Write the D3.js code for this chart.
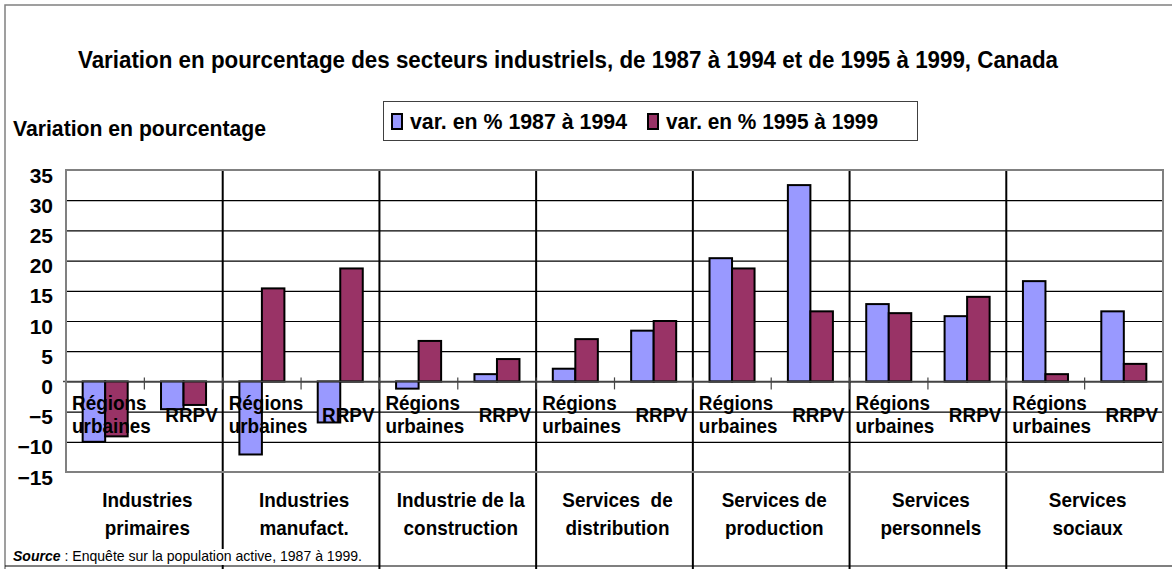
<!DOCTYPE html>
<html>
<head>
<meta charset="utf-8">
<script src="https://cdn.jsdelivr.net/npm/d3@7"></script>
<style>
  body { margin: 0; background: #fff; }
  svg { display: block; font-family: Arial, "Liberation Sans", sans-serif; }
</style>
</head>
<body>
<svg width="1172" height="569"></svg>
<script>
// données
const categories = ['Industries primaires', 'Industries manufact.', 'Industrie de la construction',
  'Services de distribution', 'Services de production', 'Services personnels', 'Services sociaux'];
const categoryLines = [
  ['Industries', 'primaires'],
  ['Industries', 'manufact.'],
  ['Industrie de la', 'construction'],
  ['Services  de', 'distribution'],
  ['Services de', 'production'],
  ['Services', 'personnels'],
  ['Services', 'sociaux']
];
const regions = ['Régions urbaines', 'RRPV'];
const seriesNames = ['var. en % 1987 à 1994', 'var. en % 1995 à 1999'];
// une valeur par (catégorie, région) : Régions urbaines puis RRPV
const var8794 = [-10.0, -4.6, -12.1, -6.8, -1.2, 1.2, 2.1, 8.4, 20.4, 32.5, 12.8, 10.8, 16.6, 11.6];
const var9599 = [-9.1, -3.9, 15.4, 18.7, 6.7, 3.7, 7.0, 10.0, 18.7, 11.6, 11.3, 14.0, 1.2, 2.9];
const yTicks = [-15, -10, -5, 0, 5, 10, 15, 20, 25, 30, 35];

const svg = d3.select('svg');
const width = +svg.attr('width');
const height = +svg.attr('height');

const colors = ['#9999ff', '#993366'];
const plot = { left: 66, right: 1163, top: 170, bottom: 472 };
const squeeze = 'scale(0.9,1)'; // le texte d'origine est un peu condensé

const rows = categories.flatMap((cat, i) => regions.map((region, j) => ({
  cat, region, values: [var8794[i * 2 + j], var9599[i * 2 + j]]
})));

const x0 = d3.scaleBand().domain(categories).range([plot.left, plot.right]);
const x1 = d3.scaleBand().domain(regions).range([0, x0.bandwidth()]);
const x2 = d3.scaleBand().domain(seriesNames).range([0, x1.bandwidth()]).paddingOuter(0.74);
const y = d3.scaleLinear().domain([-15, 35]).range([plot.bottom, plot.top]);

// cadre extérieur
svg.append('rect')
  .attr('x', 5).attr('y', 5)
  .attr('width', width + 10).attr('height', height + 10)
  .attr('fill', '#fff').attr('stroke', '#808080').attr('stroke-width', 1.5);

// titre
svg.append('text')
  .attr('x', 78).attr('y', 68)
  .attr('textLength', 980).attr('lengthAdjust', 'spacingAndGlyphs')
  .style('font-size', '23.5px').style('font-weight', 'bold')
  .text('Variation en pourcentage des secteurs industriels, de 1987 à 1994 et de 1995 à 1999, Canada');

// légende
const legend = svg.append('g');
legend.append('rect')
  .attr('x', 383.5).attr('y', 101.5).attr('width', 534).attr('height', 39)
  .attr('fill', '#fff').attr('stroke', '#404040').attr('stroke-width', 1);
const legendX = [392, 648];
const legendW = [217, 212];
seriesNames.forEach((name, i) => {
  legend.append('rect')
    .attr('x', legendX[i]).attr('y', 114).attr('width', 10).attr('height', 15)
    .attr('fill', colors[i]).attr('stroke', '#000').attr('stroke-width', 2);
  legend.append('text')
    .attr('x', legendX[i] + 18).attr('y', 129)
    .attr('textLength', legendW[i]).attr('lengthAdjust', 'spacingAndGlyphs')
    .style('font-size', '22px').style('font-weight', 'bold')
    .text(name);
});

// titre de l'axe y
svg.append('text')
  .attr('x', 13).attr('y', 136)
  .attr('textLength', 253).attr('lengthAdjust', 'spacingAndGlyphs')
  .style('font-size', '22px').style('font-weight', 'bold')
  .text('Variation en pourcentage');

// quadrillage
svg.append('g')
  .attr('transform', `translate(${plot.left},0)`)
  .call(d3.axisLeft(y).tickValues(yTicks).tickSize(-(plot.right - plot.left)).tickFormat(''))
  .call(g => g.select('.domain').remove())
  .call(g => g.selectAll('line').attr('stroke', '#000').attr('stroke-width', 1.2));

// étiquettes de l'axe y
svg.append('g')
  .attr('transform', `translate(${plot.left},0)`)
  .call(d3.axisLeft(y).tickValues(yTicks).tickSize(0).tickPadding(13))
  .call(g => g.select('.domain').remove())
  .call(g => g.selectAll('text')
    .attr('dy', null).attr('y', 12)
    .attr('fill', '#000')
    .style('font-size', '21px').style('font-weight', 'bold')
    .style('font-family', 'Arial, "Liberation Sans", sans-serif'));

// séparateurs entre les secteurs
svg.append('g')
  .selectAll('line')
  .data(categories.slice(1))
  .join('line')
    .attr('x1', d => x0(d)).attr('x2', d => x0(d))
    .attr('y1', plot.top).attr('y2', height)
    .attr('stroke', '#000').attr('stroke-width', 2);

// barres
const groups = svg.append('g')
  .selectAll('g')
  .data(rows)
  .join('g')
    .attr('transform', d => `translate(${x0(d.cat) + x1(d.region)},0)`);

groups.selectAll('rect')
  .data(d => d.values.map((v, i) => ({ key: seriesNames[i], v, i })))
  .join('rect')
    .attr('x', d => x2(d.key))
    .attr('width', x2.bandwidth())
    .attr('y', d => y(Math.max(0, d.v)))
    .attr('height', d => Math.abs(y(d.v) - y(0)))
    .attr('fill', d => colors[d.i])
    .attr('stroke', '#000').attr('stroke-width', 2);

// axe des x à zéro, avec graduations
svg.append('line')
  .attr('x1', plot.left - 3).attr('x2', plot.right)
  .attr('y1', y(0)).attr('y2', y(0))
  .attr('stroke', '#444').attr('stroke-width', 1.5);
const tickX = categories.flatMap(c => [x0(c), x0(c) + x0.bandwidth() / 2]).concat([plot.right]);
svg.append('g')
  .selectAll('line')
  .data(tickX)
  .join('line')
    .attr('x1', d => d).attr('x2', d => d)
    .attr('y1', y(0) - 4).attr('y2', y(0) + 8)
    .attr('stroke', '#444').attr('stroke-width', 1.2);

// bordure de la zone de tracé
svg.append('rect')
  .attr('x', plot.left).attr('y', plot.top)
  .attr('width', plot.right - plot.left).attr('height', plot.bottom - plot.top)
  .attr('fill', 'none').attr('stroke', '#808080').attr('stroke-width', 2);

// étiquettes des régions sous les barres
const subLabels = svg.append('g')
  .style('font-size', '21px').style('font-weight', 'bold');
rows.forEach(d => {
  const start = x0(d.cat) + x1(d.region);
  if (d.region === 'RRPV') {
    subLabels.append('text')
      .attr('transform', `translate(${start + x1.bandwidth() / 2 + 8},422) ${squeeze}`)
      .attr('text-anchor', 'middle')
      .text(d.region);
  } else {
    const t = subLabels.append('text')
      .attr('transform', `translate(${start + 6},409.5) ${squeeze}`);
    d.region.split(' ').forEach((w, k) => {
      t.append('tspan').attr('x', 0).attr('y', k * 23.5).text(w);
    });
  }
});

// étiquettes des secteurs
svg.append('g')
  .selectAll('text')
  .data(categories)
  .join('text')
    .attr('text-anchor', 'middle')
    .attr('transform', d => `translate(${x0(d) + x0.bandwidth() / 2 + 3},507) ${squeeze}`)
    .style('font-size', '21px').style('font-weight', 'bold')
    .each(function (d, i) {
      d3.select(this).selectAll('tspan')
        .data(categoryLines[i])
        .join('tspan')
          .attr('x', 0)
          .attr('y', (l, k) => k * 28.5)
          .style('white-space', 'pre')
          .text(l => l);
    });

// ligne du bas et source
svg.append('line')
  .attr('x1', 5).attr('x2', width)
  .attr('y1', 566).attr('y2', 566)
  .attr('stroke', '#000').attr('stroke-width', 1.2);
svg.append('rect')
  .attr('x', 6).attr('y', 549).attr('width', 366).attr('height', 16)
  .attr('fill', '#fff');
const source = svg.append('text')
  .attr('x', 13).attr('y', 561)
  .attr('textLength', 349).attr('lengthAdjust', 'spacingAndGlyphs')
  .style('font-size', '14.5px');
source.append('tspan').style('font-weight', 'bold').style('font-style', 'italic').text('Source');
source.append('tspan').text(' : Enquête sur la population active, 1987 à 1999.');
</script>
</body>
</html>
